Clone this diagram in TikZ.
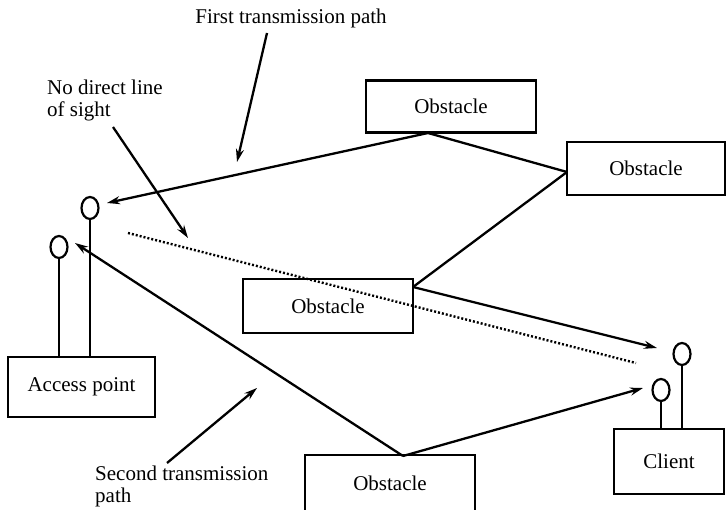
\documentclass[tikz,border=0pt]{standalone}
\usepackage{fontspec}
\setmainfont{Liberation Serif}
\usetikzlibrary{arrows.meta,shapes.geometric}
\begin{document}
\begin{tikzpicture}[x=1pt,y=-1pt,
  box/.style={draw,line width=2.6pt,inner sep=0pt,font=\fontsize{21}{24}\selectfont},
  ant/.style={draw,ellipse,line width=2.2pt,minimum width=17pt,minimum height=22pt,inner sep=0pt},
  stem/.style={line width=2.6pt},
  conn/.style={line width=2.3pt},
  arr/.style={line width=2.3pt,-{Stealth[length=13pt,width=8pt]}},
  lbl/.style={font=\fontsize{21}{22}\selectfont,inner sep=0pt,align=left},
  sight/.style={line width=2.4pt,dash pattern=on 2pt off 2pt}]
\useasboundingbox (0,0) rectangle (727,510);
% boxes
\node[box,minimum width=170pt,minimum height=52pt] (ob1) at (451,106.5) {Obstacle};
\node[box,minimum width=158pt,minimum height=53pt] (ob2) at (646,168.5) {Obstacle};
\node[box,minimum width=170pt,minimum height=54pt] (ob3) at (328,306) {Obstacle};
\node[box,minimum width=170pt,minimum height=56pt] (ob4) at (390,483) {Obstacle};
\node[box,minimum width=147pt,minimum height=60pt] (ap) at (81.5,387) {Access point};
\node[box,minimum width=110pt,minimum height=65pt] (cl) at (669,461.5) {Client};
% antennas
\node[ant] (apA) at (90,208) {};
\node[ant] (apB) at (59,247) {};
\node[ant] (clA) at (682,354) {};
\node[ant] (clB) at (661,390) {};
\draw[stem] (apA.south) -- (apA.south |- ap.north);
\draw[stem] (apB.south) -- (apB.south |- ap.north);
\draw[stem] (clA.south) -- (clA.south |- cl.north);
\draw[stem] (clB.south) -- (clB.south |- cl.north);
% attachment points
\coordinate (p1) at (428,133);
\coordinate (p2) at (567,172);
\coordinate (p3) at (413,287);
\coordinate (p4) at (403,456);
\coordinate (tA) at (107,203);
\coordinate (tB) at (75,243);
\coordinate (tC) at (657,348);
\coordinate (tD) at (643,388);
% paths
\draw[arr] (p1) -- (tA);
\draw[conn] (p1) -- (p2);
\draw[conn] (p2) -- (p3);
\draw[arr] (p3) -- (tC);
\draw[arr] (p4) -- (tB);
\draw[arr] (p4) -- (tD);
% line of sight
\coordinate (s1) at (128,233);
\coordinate (s2) at (636,363);
\draw[sight] (s1) -- (s2);
% labels
\node[lbl] (l1) at (291,18) {First transmission path};
\node[lbl,anchor=north west] (l2) at (47,80) {No direct line\\of sight};
\node[lbl,anchor=north west] (l3) at (95,466) {Second transmission\\path};
\coordinate (a1s) at (267,33);
\coordinate (a1e) at (237,162);
\coordinate (a2s) at (113,127);
\coordinate (a2e) at (188,238);
\coordinate (a3s) at (167,463);
\coordinate (a3e) at (257,388);
\draw[arr] (a1s) -- (a1e);
\draw[arr] (a2s) -- (a2e);
\draw[arr] (a3s) -- (a3e);
\end{tikzpicture}
\end{document}
